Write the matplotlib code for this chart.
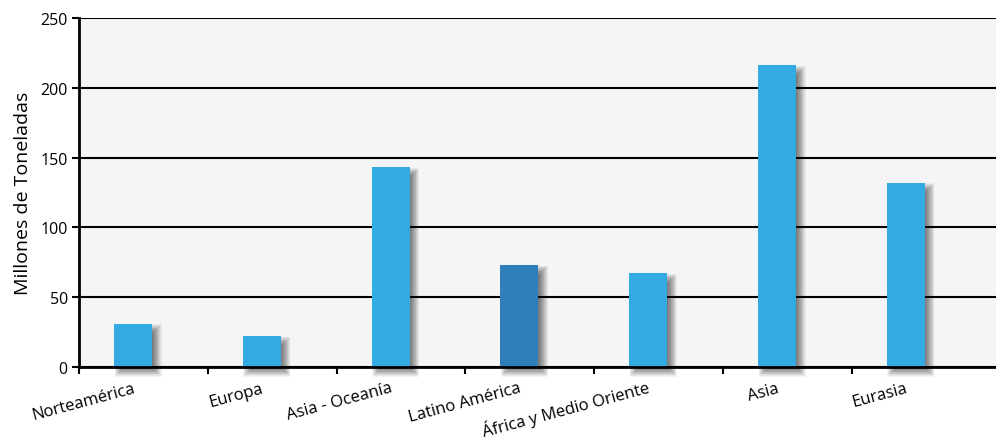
import matplotlib
matplotlib.use("Agg")
import matplotlib.pyplot as plt
from matplotlib.patches import Rectangle
from matplotlib.transforms import ScaledTranslation
import numpy as np

regions = [
    "Norteamérica",
    "Europa",
    "Asia - Oceanía",
    "Latino América",
    "África y Medio Oriente",
    "Asia",
    "Eurasia",
]
values = [31, 22, 143, 73, 67, 216, 132]
highlight = "Latino América"

y_ticks = [0, 50, 100, 150, 200, 250]
y_label = "Millones de Toneladas"

BLUE = "#33abe2"
DARK_BLUE = "#2f80ba"
PANEL = "#f5f5f5"

plt.rcParams["font.family"] = ["Open Sans", "DejaVu Sans"]


def _draw_shadow(ax, bar, offset_px=(5, -5), blur_px=4.5, layers=14, peak=0.5):
    # nested rectangles, largest first, build up a soft drop shadow
    fig = ax.figure
    x0, x1 = ax.get_xlim()
    y0, y1 = ax.get_ylim()
    px_x = (x1 - x0) / ax.bbox.width
    px_y = (y1 - y0) / ax.bbox.height
    shift = ScaledTranslation(offset_px[0] / fig.dpi, offset_px[1] / fig.dpi,
                              fig.dpi_scale_trans)
    alpha = 1 - (1 - peak) ** (1.0 / layers)
    for r in np.linspace(blur_px, -blur_px, layers):
        rect = Rectangle(
            (bar.get_x() - r * px_x, bar.get_y() - r * px_y),
            bar.get_width() + 2 * r * px_x,
            bar.get_height() + 2 * r * px_y,
            transform=ax.transData + shift,
            facecolor="black",
            edgecolor="none",
            alpha=alpha,
            zorder=2,
            clip_on=False,
        )
        ax.add_patch(rect)


fig = plt.figure(figsize=(9.96, 4.39), dpi=100)
ax = fig.add_axes([0.0793, 0.1617, 0.9207, 0.795])
ax.set_facecolor(PANEL)
ax.set_xlim(0, 7.12)
ax.set_ylim(0, 250)

x = np.arange(len(regions)) + 0.42
colors = [DARK_BLUE if r == highlight else BLUE for r in regions]
bars = ax.bar(x, values, width=0.295, color=colors, zorder=3, clip_on=False)
for bar in bars:
    _draw_shadow(ax, bar)

ax.set_yticks(y_ticks)
ax.yaxis.grid(True, color="black", linewidth=1.5)
ax.set_axisbelow(True)

# tick marks on category boundaries, labels under the bars
ax.set_xticks(np.arange(len(regions)))
ax.set_xticklabels([])
ax.set_xticks(x + 0.02, minor=True)
ax.set_xticklabels(regions, minor=True, rotation=15, ha="right", va="baseline",
                   rotation_mode="anchor")
ax.tick_params(axis="x", which="minor", length=0, pad=17.5, labelsize=12)
ax.tick_params(axis="x", which="major", length=5, width=1.5, direction="out")
ax.tick_params(axis="y", length=5, width=1.5, labelsize=11.5, pad=3)

for side in ("top", "right"):
    ax.spines[side].set_visible(False)
for side in ("left", "bottom"):
    ax.spines[side].set_linewidth(2)
    ax.spines[side].set_zorder(4)

ax.set_ylabel(y_label, fontsize=14, labelpad=6)

fig.savefig("out.png", dpi=100)
plt.close(fig)
